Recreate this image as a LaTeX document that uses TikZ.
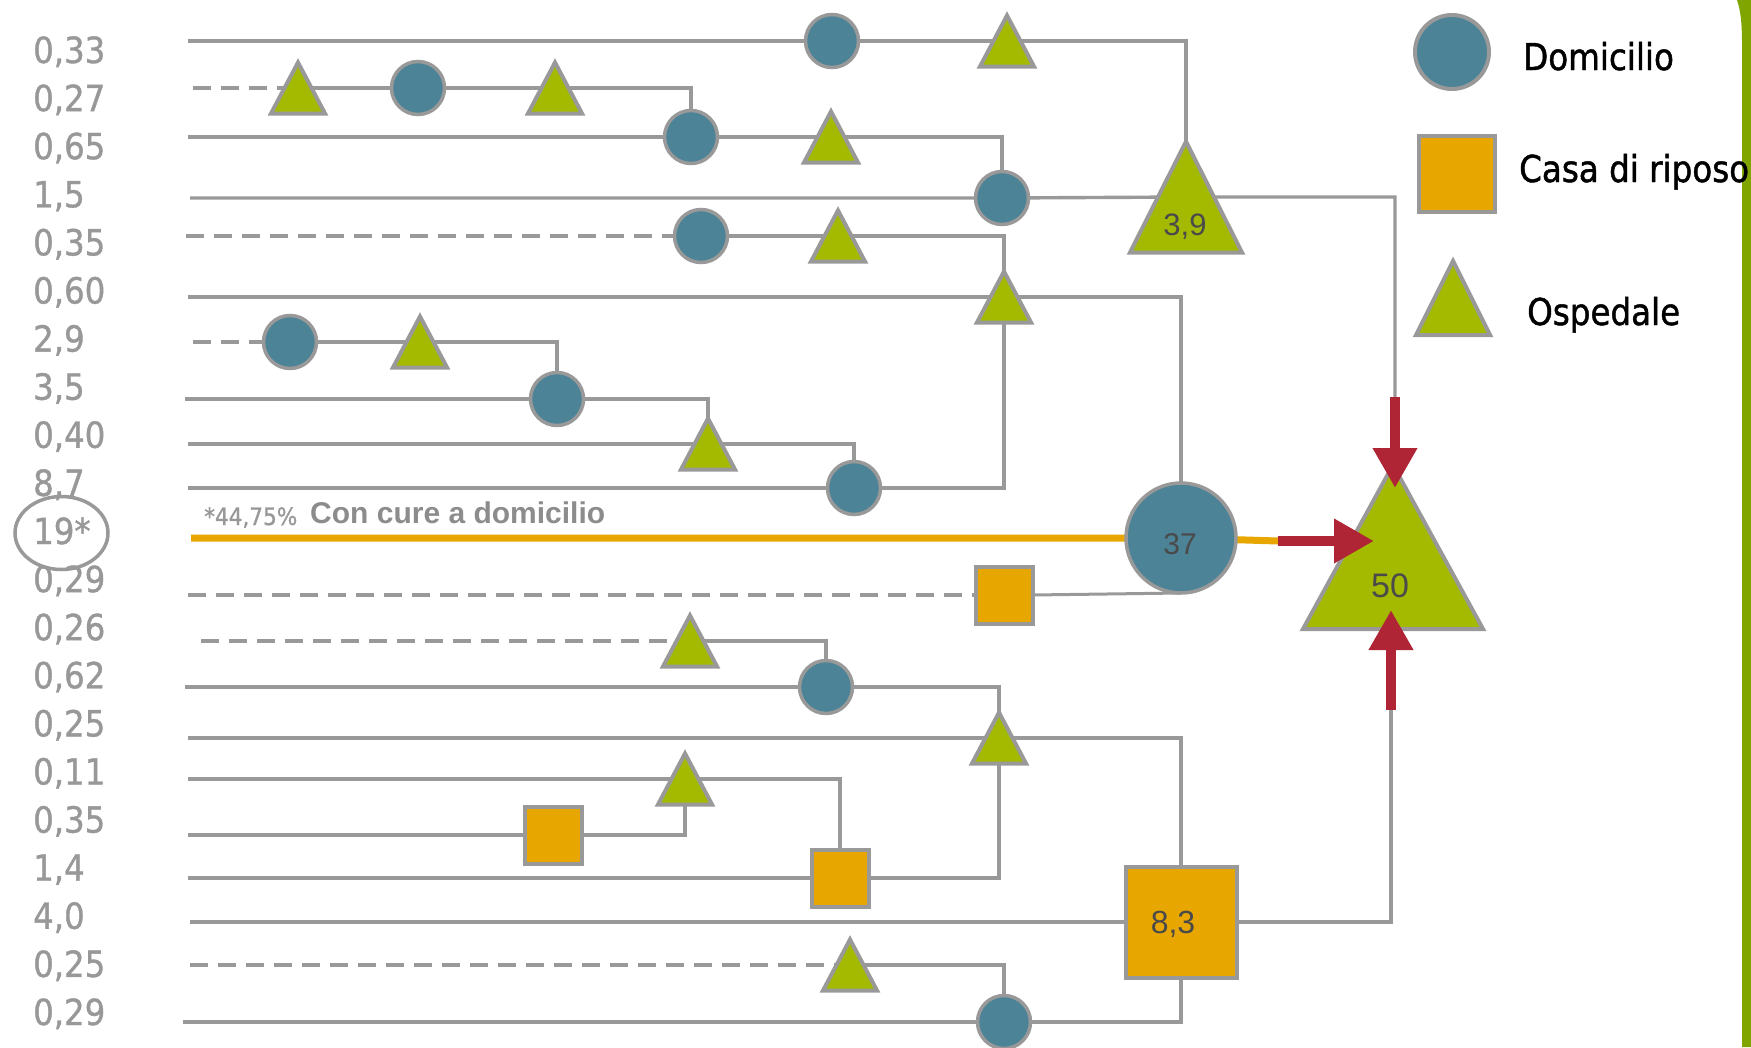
\documentclass[tikz,border=0pt]{standalone}
\usepackage{fontspec}
\setmainfont{Liberation Sans}
\newfontfamily\lblfont[FakeStretch=0.9,FakeBold=1]{DejaVu Sans}
\newfontfamily\legfont[FakeStretch=0.88,FakeBold=1.2]{DejaVu Sans}
\usetikzlibrary{arrows.meta,shapes.geometric}
\definecolor{domcol}{RGB}{76,131,151}
\definecolor{ospcol}{RGB}{164,186,0}
\definecolor{casacol}{RGB}{232,167,0}
\definecolor{edgecol}{RGB}{153,153,153}
\definecolor{lblcol}{RGB}{152,152,152}
\definecolor{concol}{RGB}{140,140,140}
\definecolor{numcol}{RGB}{74,74,74}
\definecolor{redcol}{RGB}{176,37,53}
\definecolor{barcol}{RGB}{128,164,0}
\pgfdeclarelayer{bg}
\pgfsetlayers{bg,main}
\tikzset{
 dom/.style={circle, draw=edgecol, line width=3.5pt, fill=domcol, minimum size=53pt, inner sep=0pt, outer sep=0pt},
 casa/.style={rectangle, draw=edgecol, line width=4pt, fill=casacol, minimum size=57pt, inner sep=0pt, outer sep=0pt},
 tribox/.style={rectangle, draw=none, inner sep=0pt, outer sep=0pt},
 trishape/.style={draw=edgecol, line width=4pt, fill=ospcol},
 rowline/.style={draw=edgecol, line width=3.4pt},
 link/.style={draw=edgecol, line width=3pt},
 dashline/.style={draw=edgecol, line width=4.5pt, dash pattern=on 18pt off 10pt},
 homeline/.style={draw=casacol, line width=7pt},
 redarrow/.style={draw=redcol, line width=10pt, -{Triangle[length=40pt,width=42pt]}},
 lbl/.style={font=\lblfont\fontsize{36}{36}\selectfont, text=lblcol, anchor=base west, inner sep=0pt},
 numtxt/.style={font=\fontsize{31}{31}\selectfont, text=numcol, anchor=base, inner sep=0pt},
 legtxt/.style={font=\legfont\fontsize{37}{37}\selectfont, text=black, anchor=base west, inner sep=0pt},
}
\newcommand\trinode[5]{%
 \node[tribox, minimum width=#4, minimum height=#5] (#1) at (#2,#3) {};
 \draw[trishape] (#1.north) -- (#1.south east) -- (#1.south west) -- cycle;}
\begin{document}
\begin{tikzpicture}[x=1pt,y=-1pt]
\useasboundingbox (0,0) rectangle (1751,1047);
% right green frame edge
\fill[barcol] (1751,0) -- (1737,0) .. controls (1741,12) and (1742,25) .. (1742,45) -- (1742,1047) -- (1751,1047) -- cycle;

% left labels
\foreach \t [count=\i from 0] in {{0,33},{0,27},{0,65},{1,5},{0,35},{0,60},{2,9},{3,5},{0,40},{8,7},{19*},{0,29},{0,26},{0,62},{0,25},{0,11},{0,35},{1,4},{4,0},{0,25},{0,29}}{
  \node[lbl] (lbl\i) at (33,{63+48.1*\i}) {\t};
}
\node[draw=edgecol, line width=3.5pt, ellipse, minimum width=93, minimum height=73, inner sep=0pt] (ring) at (61.5,533) {};

% Domicilio nodes
\node[dom] (c1) at (832,41) {};
\node[dom] (c2) at (418,88) {};
\node[dom] (c3) at (691,137) {};
\node[dom] (c4) at (1002,198) {};
\node[dom] (c5) at (701,236) {};
\node[dom] (c7) at (290,342) {};
\node[dom] (c8) at (557,399) {};
\node[dom] (c10) at (854,488) {};
\node[dom] (c14) at (826,687) {};
\node[dom] (c21) at (1004,1022) {};
\node[dom, minimum size=110] (c37) at (1181,538) {};

% Ospedale nodes
\trinode{tr1}{1007}{41}{54}{51}
\trinode{tr2a}{298}{88}{54}{51}
\trinode{tr2b}{555}{88}{54}{51}
\trinode{tr3}{831}{137}{54}{51}
\trinode{tr5}{838}{236}{54}{51}
\trinode{tr6}{1004}{297}{54}{51}
\trinode{tr7}{420}{342}{54}{51}
\trinode{tr9}{708}{444}{54}{51}
\trinode{tr13}{690}{641}{54}{51}
\trinode{tr15}{999}{738}{54}{51}
\trinode{tr16}{685}{779}{54}{51}
\trinode{tr20}{850}{965}{54}{51}
\trinode{t39}{1186}{197}{112}{111}
\trinode{t50}{1393}{547}{180}{164}

% Casa di riposo nodes
\node[casa] (sq12) at (1004,595) {};
\node[casa] (sq17) at (553,835) {};
\node[casa] (sq18) at (840,878) {};
\node[casa, minimum size=111] (sq83) at (1181,922) {};

% numbers in shapes
\node[numtxt] (n39) at (1185,235) {3,9};
\node[numtxt, font=\fontsize{30}{30}\selectfont] (n37) at (1180,554) {37};
\node[numtxt, font=\fontsize{34}{34}\selectfont] (n50) at (1390,597) {50};
\node[numtxt, font=\fontsize{32}{32}\selectfont] (n83) at (1173,933) {8,3};

% text on the home-care line
\node[lbl, font=\lblfont\fontsize{24}{24}\selectfont] (pct) at (204,525) {*44,75\%};
\node[anchor=base west, inner sep=0pt, font=\bfseries\fontsize{30}{30}\selectfont, text=concol] (cure) at (310,523) {Con cure a domicilio};

% legend
\node[dom, line width=4pt, minimum size=74] (legdom) at (1452,52) {};
\node[casa, minimum size=76] (legcasa) at (1457,174) {};
\trinode{legosp}{1453}{298}{74}{74}
\node[legtxt] (tdom) at (1523,70) {Domicilio};
\node[legtxt] (tcasa) at (1519,182) {Casa di riposo};
\node[legtxt] (tosp) at (1527,325) {Ospedale};

% arrow end points
\coordinate (a1s) at (1395,397);
\coordinate (a1e) at (1395,488);
\coordinate (a2s) at (1278,541);
\coordinate (a2e) at (1374,541);
\coordinate (a3s) at (1391,710);
\coordinate (a3e) at (1391,610);

\begin{pgfonlayer}{bg}
\coordinate (s1) at (188,41);
\coordinate (s2) at (193,88);
\coordinate (s3) at (188,137);
\coordinate (s4) at (190,198);
\coordinate (s5) at (186,236);
\coordinate (s6) at (188,297);
\coordinate (s7) at (193,342);
\coordinate (s8) at (185,399);
\coordinate (s9) at (188,444);
\coordinate (s10) at (188,488);
\coordinate (s11) at (191,538);
\coordinate (s12) at (188,595);
\coordinate (s13) at (201,641);
\coordinate (s14) at (185,687);
\coordinate (s15) at (188,738);
\coordinate (s16) at (188,779);
\coordinate (s17) at (188,835);
\coordinate (s18) at (188,878);
\coordinate (s19) at (190,922);
\coordinate (s20) at (190,965);
\coordinate (s21) at (183,1022);
\draw[rowline] (s1) -- (c1) -- (tr1.center) -| (t39.center);
\draw[dashline] (s2) -- (tr2a.center);
\draw[rowline] (tr2a.center) -- (c2) -- (tr2b.center) -| (c3);
\draw[rowline] (s3) -- (c3) -- (tr3.center) -| (c4);
\draw[rowline] (s4) -- (c4) -- (t39.center) -| (a1s);
\draw[dashline] (s5) -- (c5);
\draw[rowline] (c5) -- (tr5.center) -| (tr6.center);
\draw[rowline] (s6) -- (tr6.center) -| (c37);
\draw[dashline] (s7) -- (c7);
\draw[rowline] (c7) -- (tr7.center) -| (c8);
\draw[rowline] (s8) -- (c8) -| (tr9.center);
\draw[rowline] (s9) -- (tr9.center) -| (c10);
\draw[rowline] (s10) -- (c10) -| (tr6.center);
\draw[homeline] (s11) -- (c37) -- (a2s);
\draw[dashline] (s12) -- (sq12);
\draw[link] (sq12.east) -- (c37.south);
\draw[dashline] (s13) -- (tr13.center);
\draw[rowline] (tr13.center) -| (c14);
\draw[rowline] (s14) -- (c14) -| (tr15.center);
\draw[rowline] (s15) -- (tr15.center) -| (sq83);
\draw[rowline] (s16) -- (tr16.center) -| (sq18);
\draw[rowline] (s17) -- (sq17) -| (tr16.center);
\draw[rowline] (s18) -- (sq18) -| (tr15.center);
\draw[rowline] (s19) -- (sq83) -| (a3s);
\draw[dashline] (s20) -- (tr20.center);
\draw[rowline] (tr20.center) -| (c21);
\draw[rowline] (s21) -- (c21) -| (sq83);
\end{pgfonlayer}

% red arrows
\draw[redarrow] (a1s) -- (a1e);
\draw[redarrow] (a2s) -- (a2e);
\draw[redarrow] (a3s) -- (a3e);
\end{tikzpicture}
\end{document}
